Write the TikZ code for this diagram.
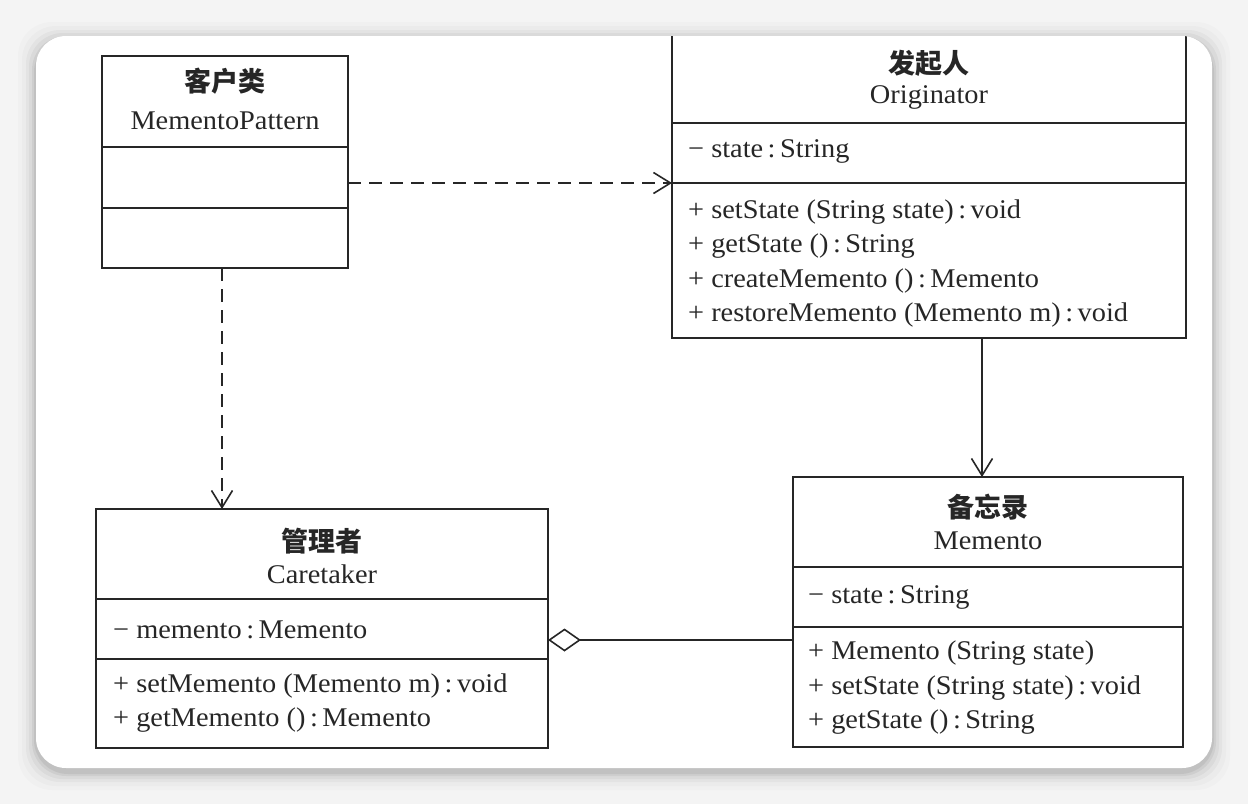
\documentclass[tikz,border=0pt]{standalone}
\usepackage{fontspec}
\setmainfont{Liberation Serif}[FakeStretch=1.05]
\newfontfamily\cjk{Noto Sans CJK SC}
\usetikzlibrary{arrows.meta}
\definecolor{linec}{HTML}{262626}
\definecolor{bgc}{HTML}{F4F4F4}
\begin{document}
\begin{tikzpicture}[x=1pt,y=-1pt,
  box/.style={draw=linec, line width=1.8pt, fill=white, inner sep=0pt, outer sep=0pt, anchor=north west},
  div/.style={draw=linec, line width=1.8pt},
  conn/.style={draw=linec, line width=1.6pt},
  dashedconn/.style={conn, dash pattern=on 13pt off 8pt},
  openarrow/.style={-{Straight Barb[length=17pt,width=21pt,line width=1.6pt]}},
  title/.style={font=\fontsize{27}{30}\selectfont\cjk\bfseries, text=linec, inner sep=0pt},
  cname/.style={font=\fontsize{27}{30}\selectfont, text=linec, inner sep=0pt},
  member/.style={font=\fontsize{27}{30}\selectfont, text=linec, inner sep=0pt, anchor=west}]
\useasboundingbox (0,0) rectangle (1248,804);
\fill[bgc] (0,0) rectangle (1248,804);
% card shadow
\foreach \s/\o in {18/0.015,14/0.02,10/0.03,7/0.04,4/0.05,2/0.06}{
  \fill[black, opacity=\o, rounded corners=34pt] (36-\s,36-\s+4) rectangle (1212+\s,768+\s+4);
}
\fill[white, rounded corners=30pt] (36,36) rectangle (1212,768);
\begin{scope}
\clip[rounded corners=30pt] (36,36) rectangle (1212,768);
% MementoPattern
\node[box, minimum width=246pt, minimum height=212pt] (mp) at (102,56) {};
\draw[div] (102,147) -- (348,147);
\draw[div] (102,208) -- (348,208);
\node[title] (mpt) at (225,81) {客户类};
\node[cname] (mpn) at (225,121) {MementoPattern};
% Originator
\node[box, minimum width=514pt, minimum height=310pt] (orig) at (672,28) {};
\draw[div] (672,123) -- (1186,123);
\draw[div] (672,183) -- (1186,183);
\node[title] (ort) at (929,63) {发起人};
\node[cname] (orn) at (929,97) {Originator};
\node[member] (or1) at (688,151) {−\ state\,:\,String};
\node[member] (or2) at (688,212) {+\ setState (String state)\,:\,void};
\node[member] (or3) at (688,246) {+\ getState ()\,:\,String};
\node[member] (or4) at (688,281) {+\ createMemento ()\,:\,Memento};
\node[member] (or5) at (688,315) {+\ restoreMemento (Memento m)\,:\,void};
% Caretaker
\node[box, minimum width=452pt, minimum height=239pt] (care) at (96,509) {};
\draw[div] (96,599) -- (548,599);
\draw[div] (96,659) -- (548,659);
\node[title] (cat) at (322,541) {管理者};
\node[cname] (can) at (322,574) {Caretaker};
\node[member] (ca1) at (113,630) {−\ memento\,:\,Memento};
\node[member] (ca2) at (113,686) {+\ setMemento (Memento m)\,:\,void};
\node[member] (ca3) at (113,720) {+\ getMemento ()\,:\,Memento};
% Memento
\node[box, minimum width=390pt, minimum height=270pt] (mem) at (793,477) {};
\draw[div] (793,567) -- (1183,567);
\draw[div] (793,627) -- (1183,627);
\node[title] (met) at (988,507) {备忘录};
\node[cname] (men) at (988,541) {Memento};
\node[member] (me1) at (808,597) {−\ state\,:\,String};
\node[member] (me2) at (808,653) {+\ Memento (String state)};
\node[member] (me3) at (808,688) {+\ setState (String state)\,:\,void};
\node[member] (me4) at (808,722) {+\ getState ()\,:\,String};
% connectors
\draw[dashedconn, openarrow] (mp.east |- 0,183) -- (orig.west |- 0,183);
\draw[dashedconn, openarrow] (222,0 |- mp.south) -- (222,0 |- care.north);
\draw[conn, openarrow] (982,0 |- orig.south) -- (982,0 |- mem.north);
\draw[conn, {Diamond[open, fill=white, length=33pt, width=23pt, line width=1.6pt]}-] (care.east |- 0,640) -- (mem.west |- 0,640);
\end{scope}
\end{tikzpicture}
\end{document}
